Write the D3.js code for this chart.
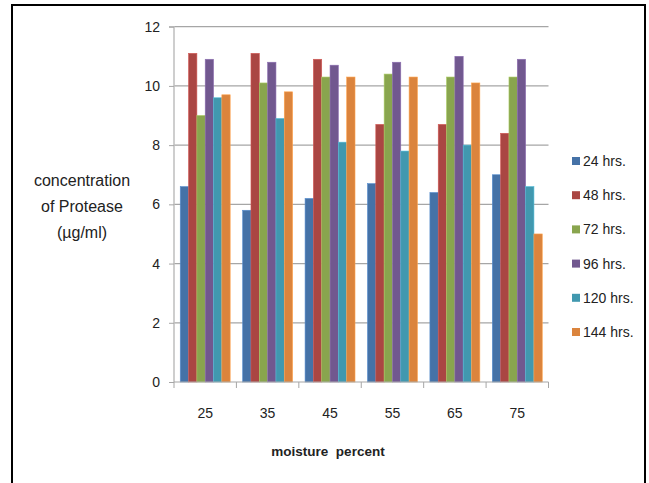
<!DOCTYPE html>
<html>
<head>
<meta charset="utf-8">
<script src="https://cdn.jsdelivr.net/npm/d3@7"></script>
<style>
  html, body { margin: 0; padding: 0; background: #fff; }
  svg { display: block; }
  text { font-family: "Liberation Sans Narrow", "Liberation Sans", "DejaVu Sans Condensed", sans-serif; fill: #222; }
</style>
</head>
<body>
<svg id="chart" width="649" height="483"></svg>
<script>
const categories = ["25", "35", "45", "55", "65", "75"];
const seriesNames = ["24 hrs.", "48 hrs.", "72 hrs.", "96 hrs.", "120 hrs.", "144 hrs."];
const s24  = [6.6, 5.8, 6.2, 6.7, 6.4, 7.0];
const s48  = [11.1, 11.1, 10.9, 8.7, 8.7, 8.4];
const s72  = [9.0, 10.1, 10.3, 10.4, 10.3, 10.3];
const s96  = [10.9, 10.8, 10.7, 10.8, 11.0, 10.9];
const s120 = [9.6, 8.9, 8.1, 7.8, 8.0, 6.6];
const s144 = [9.7, 9.8, 10.3, 10.3, 10.1, 5.0];
const seriesValues = [s24, s48, s72, s96, s120, s144];
const yTicks = [0, 2, 4, 6, 8, 10, 12];
const colors = ["#4572A7", "#AA4643", "#89A54E", "#71588F", "#4198AF", "#DB843D"];

const svg = d3.select("#chart");

// outer frame
svg.append("rect").attr("x", 12).attr("y", 5).attr("width", 633).attr("height", 490)
  .attr("fill", "none").attr("stroke", "#000").attr("stroke-width", 2);

const pLeft = 174, pRight = 548.5, pTop = 26.7, pBottom = 382;

const x0 = d3.scaleBand().domain(categories).range([pLeft, pRight]).paddingInner(0.2).paddingOuter(0.1);
const x1 = d3.scaleBand().domain(seriesNames).range([0, x0.bandwidth()]);
const y = d3.scaleLinear().domain([0, 12]).range([pBottom, pTop]);

// gridlines
svg.append("g").selectAll("line").data(yTicks.filter(d => d > 0)).join("line")
  .attr("x1", pLeft).attr("x2", pRight)
  .attr("y1", d => y(d)).attr("y2", d => y(d))
  .attr("stroke", "#a6a6a6").attr("stroke-width", 1.2);

// bars
const groups = svg.append("g").selectAll("g").data(categories).join("g")
  .attr("transform", c => `translate(${x0(c)},0)`);
groups.selectAll("rect").data((c, ci) => seriesNames.map((s, si) => ({s, si, v: seriesValues[si][ci]})))
  .join("rect")
  .attr("x", d => x1(d.s))
  .attr("width", x1.bandwidth())
  .attr("y", d => y(d.v))
  .attr("height", d => y(0) - y(d.v))
  .attr("fill", d => colors[d.si])
  .attr("stroke", d => d3.color(colors[d.si]).brighter(0.6))
  .attr("stroke-width", 0.6);

// y axis
const yAxis = d3.axisLeft(y).tickValues(yTicks).tickSize(5).tickPadding(9).tickFormat(d3.format("d"));
const yg = svg.append("g").attr("transform", `translate(${pLeft},0)`).call(yAxis);
yg.select(".domain").attr("stroke", "#bfbfbf").attr("stroke-width", 1.5).attr("d", `M-5,${pTop}H0V${pBottom}`);
yg.selectAll(".tick line").attr("stroke", "#a6a6a6");
yg.selectAll(".tick text").style("font-size", "14px").attr("fill", "#222");

// x axis with ticks at category boundaries
const step = (pRight - pLeft) / categories.length;
const xg = svg.append("g");
xg.append("line").attr("x1", pLeft).attr("x2", pRight).attr("y1", pBottom).attr("y2", pBottom)
  .attr("stroke", "#a6a6a6").attr("stroke-width", 1.2);
xg.selectAll("line.tk").data(d3.range(categories.length + 1)).join("line").attr("class", "tk")
  .attr("x1", i => pLeft + i * step).attr("x2", i => pLeft + i * step)
  .attr("y1", pBottom).attr("y2", pBottom + 6)
  .attr("stroke", "#a6a6a6");
xg.selectAll("text").data(categories).join("text")
  .attr("x", c => x0(c) + x0.bandwidth() / 2)
  .attr("y", 418)
  .attr("text-anchor", "middle")
  .style("font-size", "14px")
  .text(c => c);

// axis titles
svg.append("text").attr("x", 328).attr("y", 456).attr("text-anchor", "middle")
  .style("font-size", "13.5px").style("font-weight", "bold").attr("xml:space", "preserve")
  .text("moisture  percent");

const yTitle = ["concentration", "of Protease", "(µg/ml)"];
svg.append("g").selectAll("text").data(yTitle).join("text")
  .attr("x", 82).attr("y", (d, i) => 186 + i * 26)
  .attr("text-anchor", "middle")
  .style("font-size", "16px")
  .text(d => d);

// legend
const leg = svg.append("g").selectAll("g").data(seriesNames).join("g")
  .attr("transform", (d, i) => `translate(572,${161 + i * 34.2})`);
leg.append("rect").attr("x", 0).attr("y", -4).attr("width", 8).attr("height", 8)
  .attr("fill", (d, i) => colors[i]);
leg.append("text").attr("x", 11).attr("y", 5).style("font-size", "14px").text(d => d);
</script>
</body>
</html>
